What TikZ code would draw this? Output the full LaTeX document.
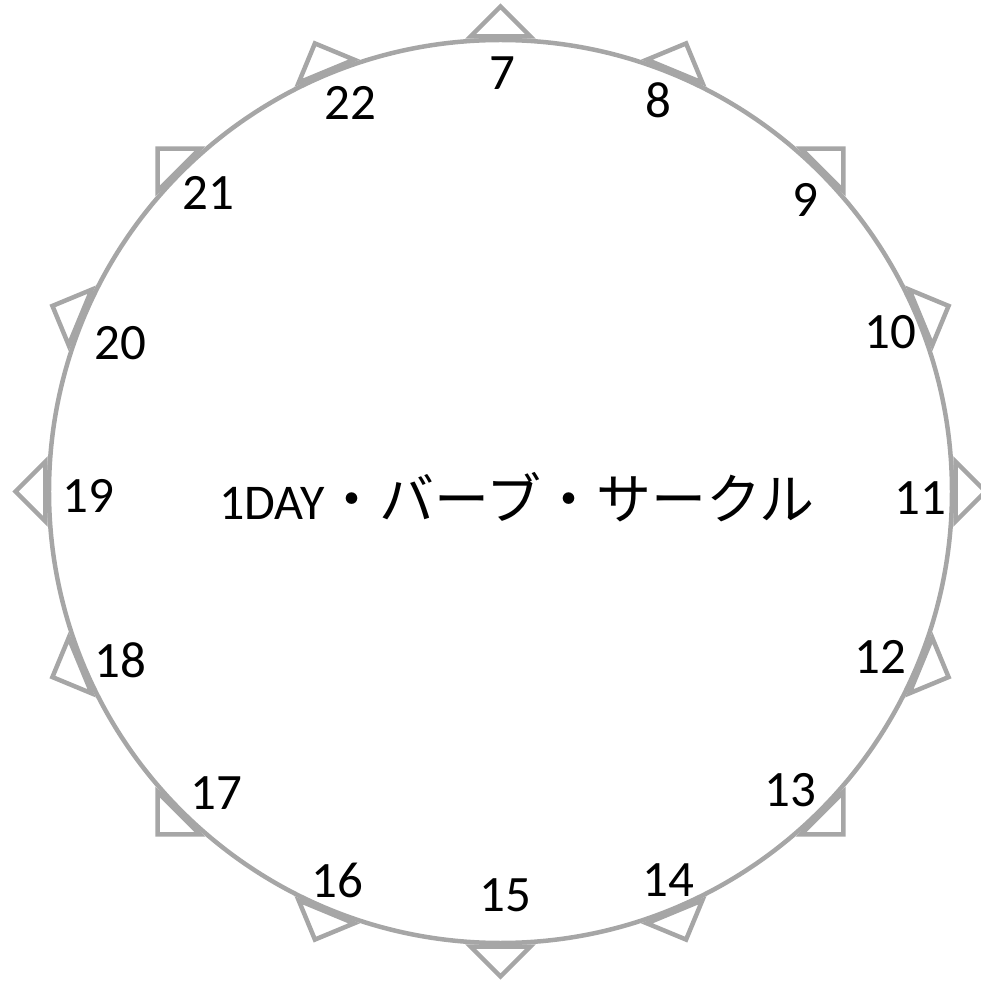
\documentclass[tikz,border=0pt]{standalone}
\usepackage{fontspec}
\setmainfont{Carlito}
\newfontfamily\jpfont{Noto Sans CJK JP}
\definecolor{ringgray}{HTML}{A6A6A6}
\tikzset{
  ring/.style={draw=ringgray, line width=4.5pt},
  flag/.style={draw=ringgray, line width=4.5pt, line join=miter},
  hour/.style={font=\fontsize{51}{51}\selectfont, inner sep=0pt},
  title/.style={inner sep=0pt}
}
\begin{document}
\begin{tikzpicture}[x=1pt,y=1pt]
\useasboundingbox (-500.5,-492.5) rectangle (480.5,491.5);
\node[ring, circle, minimum size=903pt, inner sep=0pt] (ring) at (0,0) {};
\foreach \k in {0,...,15}{
  \pgfmathsetmacro{\a}{90-22.5*\k}
  \draw[flag, rotate=\a] (455,-30) -- (485,0) -- (455,30) -- cycle;
}
\node[hour] (h7)  at (1.5,418.5) {7};
\node[hour] (h8)  at (157.5,391.5) {8};
\node[hour] (h9)  at (304.5,291.5) {9};
\node[hour] (h10) at (389.5,159.5) {10};
\node[hour] (h11) at (419.5,-6.5) {11};
\node[hour] (h12) at (379.5,-165.5) {12};
\node[hour] (h13) at (289.5,-298.5) {13};
\node[hour] (h14) at (167.5,-388.5) {14};
\node[hour] (h15) at (4.5,-403.5) {15};
\node[hour] (h16) at (-163.5,-388.5) {16};
\node[hour] (h17) at (-284.5,-301.5) {17};
\node[hour] (h18) at (-380.5,-168.5) {18};
\node[hour] (h19) at (-412.5,-4.5) {19};
\node[hour] (h20) at (-380.5,148.5) {20};
\node[hour] (h21) at (-292.5,298.5) {21};
\node[hour] (h22) at (-150.5,388.5) {22};
\node[title] (t) at (16.5,-6) {\fontsize{50}{50}\selectfont 1DAY\jpfont\fontsize{55}{55}\selectfont ・バーブ・サークル};
\end{tikzpicture}
\end{document}
